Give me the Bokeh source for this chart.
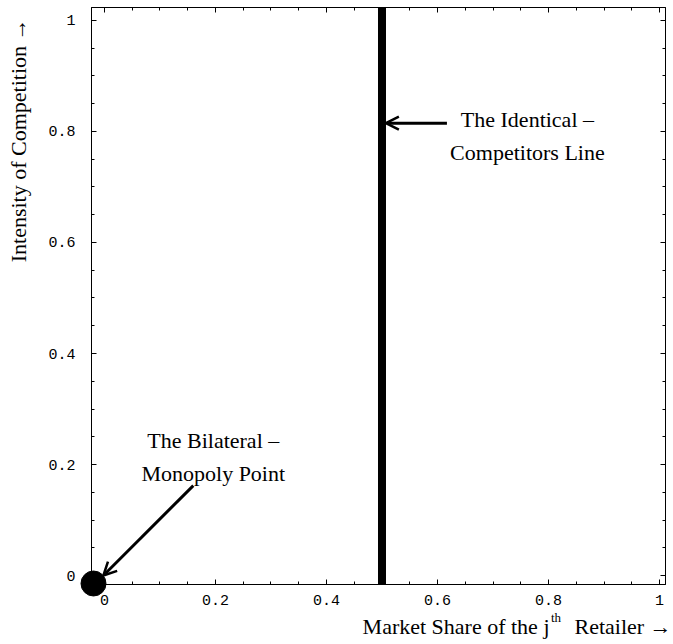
import numpy as np
from bokeh.plotting import figure
from bokeh.models import (ColumnDataSource, FixedTicker, LinearAxis, Range1d,
                          Arrow, OpenHead, Span)
from bokeh.core.properties import value
from bokeh.embed import file_html
from bokeh.resources import INLINE

# ---- data -------------------------------------------------------------
major_ticks = [0, 0.2, 0.4, 0.6, 0.8, 1]
tick_labels = ["0", "0.2", "0.4", "0.6", "0.8", "1"]
minor_ticks = [0.05, 0.1, 0.15, 0.25, 0.3, 0.35, 0.45, 0.5, 0.55,
               0.65, 0.7, 0.75, 0.85, 0.9, 0.95]

# identical-competitors line: market share of one half
identical_share = 0.5

# bilateral-monopoly point (sits on the frame corner)
point_x = [-0.0198]
point_y = [-0.0144]

# annotation arrows (tail -> head)
arrow_x0 = [0.617, 0.160]
arrow_y0 = [0.815, 0.162]
arrow_x1 = [0.507, -0.002]
arrow_y1 = [0.815, 0.000]

# annotation texts
note_text = ["The Identical \u2013", "Competitors Line",
             "The Bilateral \u2013", "Monopoly Point"]
note_x = [0.762, 0.762, 0.196, 0.196]
note_y = [0.8216, 0.762, 0.243, 0.184]

# axis titles
y_title = "Intensity of Competition \u2192"
x_title_parts = ["Market Share of the j", "th", "Retailer \u2192"]

SERIF = "Liberation Serif"
MONO = "Liberation Mono"

p = figure(width=673, height=644,
           x_range=Range1d(-0.0234, 1.0108), y_range=Range1d(-0.0162, 1.0234),
           output_backend="svg", toolbar_location=None,
           min_border_left=91, min_border_right=8,
           min_border_top=7, min_border_bottom=60)
p.xgrid.visible = False
p.ygrid.visible = False
p.outline_line_color = "black"
p.background_fill_color = "white"
p.border_fill_color = "white"

ticker = FixedTicker(ticks=major_ticks, minor_ticks=minor_ticks)
overrides = {t: s for t, s in zip(major_ticks, tick_labels)}


def style_axis(ax, labelled, standoff):
    ax.ticker = ticker
    ax.axis_line_color = "black"
    ax.axis_line_width = 1
    ax.major_tick_in = 5
    ax.major_tick_out = 0
    ax.minor_tick_in = 3
    ax.minor_tick_out = 0
    ax.major_tick_line_color = "black"
    ax.minor_tick_line_color = "black"
    if labelled:
        ax.major_label_overrides = overrides
        ax.major_label_text_font = MONO
        ax.major_label_text_font_size = "15px"
        ax.major_label_text_color = "black"
        ax.major_label_standoff = standoff
    else:
        ax.major_label_overrides = {t: "" for t in major_ticks}
        ax.major_label_text_font_size = "0px"
        ax.major_label_standoff = 0


style_axis(p.xaxis[0], True, 10)
style_axis(p.yaxis[0], True, 16)

top_axis = LinearAxis()
right_axis = LinearAxis()
style_axis(top_axis, False, 0)
style_axis(right_axis, False, 0)
p.add_layout(top_axis, "above")
p.add_layout(right_axis, "right")

# vertical thick line
p.add_layout(Span(location=identical_share, dimension="height",
                  line_color="black", line_width=8))

# monopoly point, drawn on the overlay level so the frame does not clip it
dot = p.scatter(point_x, point_y, size=25, color="black")
dot.level = "overlay"

# arrows
arrow_src = ColumnDataSource(dict(x0=arrow_x0, y0=arrow_y0,
                                  x1=arrow_x1, y1=arrow_y1))
p.add_layout(Arrow(end=OpenHead(size=13, line_width=2.5, line_color="black"),
                   x_start="x0", y_start="y0", x_end="x1", y_end="y1",
                   source=arrow_src, line_width=3, line_color="black"))

# annotation texts
note_src = ColumnDataSource(dict(x=note_x, y=note_y, text=note_text))
p.text(x="x", y="y", text="text", source=note_src,
       text_font=value(SERIF), text_font_size="22px", text_color="black",
       text_align="center", text_baseline="alphabetic")

# axis titles, placed outside the frame on the overlay level
r = p.text(x=[-0.155], y=[1.0036], text=[y_title], angle=np.pi / 2,
           text_align="right", text_baseline="middle",
           text_font=value(SERIF), text_font_size="22px", text_color="black")
r.level = "overlay"
r = p.text(x=[0.8018], y=[-0.0919], text=[x_title_parts[0]],
           text_align="right", text_baseline="alphabetic",
           text_font=value(SERIF), text_font_size="22px", text_color="black")
r.level = "overlay"
r = p.text(x=[0.8045], y=[-0.0757], text=[x_title_parts[1]],
           text_align="left", text_baseline="alphabetic",
           text_font=value(SERIF), text_font_size="13px", text_color="black")
r.level = "overlay"
r = p.text(x=[0.8468], y=[-0.0919], text=[x_title_parts[2]],
           text_align="left", text_baseline="alphabetic",
           text_font=value(SERIF), text_font_size="22px", text_color="black")
r.level = "overlay"

open("out.html", "w").write(file_html(p, INLINE))
